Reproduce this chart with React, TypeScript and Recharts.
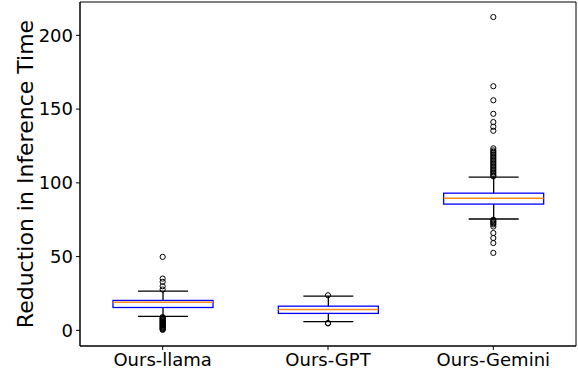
import { ComposedChart, Bar, Scatter, XAxis, YAxis, ReferenceArea } from "recharts";

// box plot summary per model
const models = ["Ours-llama", "Ours-GPT", "Ours-Gemini"];
const whiskerLow = [9.5, 5.9, 75.5];
const q1 = [15.5, 11.5, 85.6];
const median = [19.1, 14.2, 89.6];
const q3 = [20.3, 16.4, 93.0];
const whiskerHigh = [26.6, 23.2, 103.9];

// outliers (fliers) per model
const llamaFliers = [
  49.8, 35.1, 32.9, 29.9, 27.7, 9.0, 8.5, 8.0, 7.5, 7.0, 6.6, 6.1, 5.7, 5.2, 4.8,
  4.3, 3.9, 3.4, 3.0, 2.5, 2.0, 1.6, 1.2, 0.8, 0.3,
];
const gptFliers = [23.8, 4.7, 5.0];
const geminiFliers = [
  212.4, 165.5, 156.0, 146.8, 141.2, 138.0, 135.3, 123.4, 122.0, 121.0, 120.0, 119.0,
  118.0, 117.0, 116.0, 115.0, 114.0, 113.0, 112.0, 111.0, 110.0, 109.0, 108.0, 107.0,
  106.0, 105.0, 104.4, 75.0, 74.2, 73.4, 72.6, 71.8, 70.4, 66.0, 62.6, 59.2, 52.5,
];

const yTicks = [0, 50, 100, 150, 200];
const yDomain = [-10.6, 222.6];
const xDomain = [0.5, 3.5];
const yLabel = "Reduction in Inference Time";

const boxData = models.map((name, i) => ({
  x: i + 1,
  name,
  lo: whiskerLow[i],
  q1: q1[i],
  med: median[i],
  q3: q3[i],
  hi: whiskerHigh[i],
  range: [whiskerLow[i], whiskerHigh[i]],
}));

const fliers = [llamaFliers, gptFliers, geminiFliers].flatMap((vals, i) =>
  vals.map((v) => ({ x: i + 1, y: v }))
);

const FONT = "'DejaVu Sans', sans-serif";

function BoxShape(props: any) {
  const { x, y, width, height, payload } = props;
  const { lo, hi } = payload;
  // range bar spans hi (top) to lo (bottom); map values linearly inside it
  const toY = (v: number) => y + ((hi - v) / (hi - lo)) * height;
  const cx = x + width / 2;
  const capHalf = width / 4;
  const yq1 = toY(payload.q1);
  const yq3 = toY(payload.q3);
  const ymed = toY(payload.med);
  return (
    <g>
      <line x1={cx} x2={cx} y1={y} y2={yq3} stroke="#000" strokeWidth={1.3} />
      <line x1={cx} x2={cx} y1={yq1} y2={y + height} stroke="#000" strokeWidth={1.3} />
      <line x1={cx - capHalf} x2={cx + capHalf} y1={y} y2={y} stroke="#000" strokeWidth={1.3} />
      <line
        x1={cx - capHalf}
        x2={cx + capHalf}
        y1={y + height}
        y2={y + height}
        stroke="#000"
        strokeWidth={1.3}
      />
      <rect x={x} y={yq3} width={width} height={yq1 - yq3} fill="none" stroke="#0000ff" strokeWidth={1.3} />
      <line x1={x} x2={x + width} y1={ymed} y2={ymed} stroke="#ff8c1a" strokeWidth={1.5} />
    </g>
  );
}

function Flier(props: any) {
  const { cx, cy } = props;
  return <circle cx={cx} cy={cy} r={2.6} fill="none" stroke="#000" strokeWidth={1} />;
}

// y label placed left of the plot area (viewBox = plot rect)
function YLabel(props: any) {
  const { viewBox } = props;
  const lx = viewBox.x - 47;
  const ly = viewBox.y + viewBox.height / 2;
  return (
    <text
      x={lx}
      y={ly}
      transform={`rotate(-90, ${lx}, ${ly})`}
      textAnchor="middle"
      fontSize={22}
      fontFamily={FONT}
      fill="#000"
    >
      {yLabel}
    </text>
  );
}

export default function App() {
  return (
    <div style={{ position: "absolute", left: 0, top: 0, background: "#fff" }}>
      <ComposedChart
        width={578}
        height={376}
        data={boxData}
        margin={{ top: 2, right: 2, left: 0, bottom: 0 }}
      >
        <XAxis
          dataKey="x"
          type="number"
          domain={xDomain}
          ticks={[1, 2, 3]}
          tickFormatter={(v) => models[v - 1]}
          height={30}
          tickSize={4}
          tickMargin={3}
          stroke="#000"
          tick={{ fill: "#000", fontSize: 18, fontFamily: FONT }}
          allowDataOverflow
        />
        <YAxis
          type="number"
          domain={yDomain}
          ticks={yTicks}
          width={80}
          tickSize={4}
          tickMargin={3}
          stroke="#000"
          tick={{ fill: "#000", fontSize: 18, fontFamily: FONT }}
          allowDataOverflow
        />
        {/* axes frame, also carries the y label */}
        <ReferenceArea
          x1={xDomain[0]}
          x2={xDomain[1]}
          y1={yDomain[0]}
          y2={yDomain[1]}
          fill="none"
          stroke="#000"
          strokeWidth={1}
          ifOverflow="visible"
          label={<YLabel />}
        />
        <Bar dataKey="range" barSize={100} shape={<BoxShape />} isAnimationActive={false} />
        <Scatter data={fliers} dataKey="y" shape={<Flier />} isAnimationActive={false} />
      </ComposedChart>
    </div>
  );
}
